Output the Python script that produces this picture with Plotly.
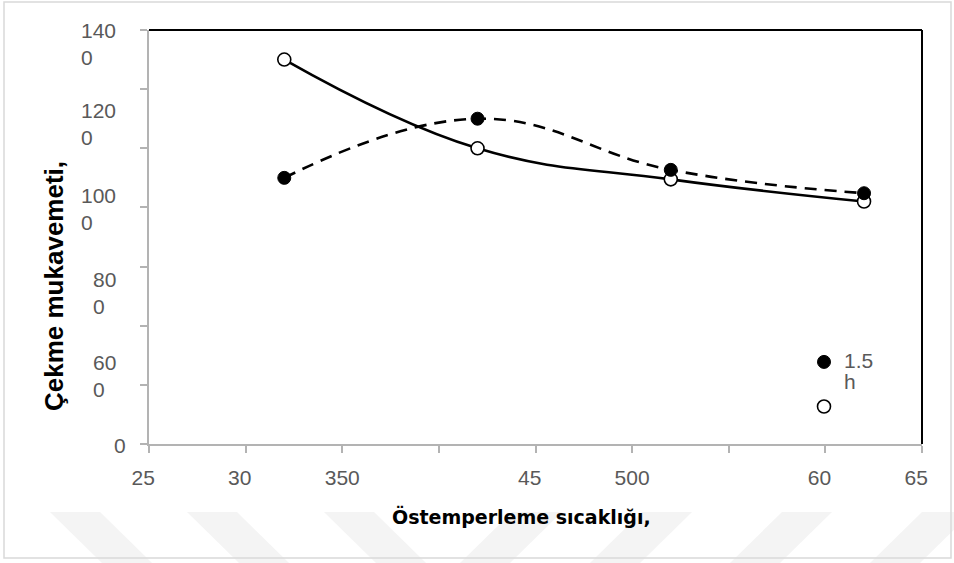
import plotly.graph_objects as go

# ---------------- data ----------------
temps = [320, 420, 520, 620]
strength_open = [1300, 1000, 895, 820]     # open circles, solid line
strength_filled = [900, 1100, 927, 848]    # filled circles, dashed line

x_tick_vals = [250, 300, 350, 400, 450, 500, 550, 600, 650]
x_tick_visible = ["25", "30", "350", "", "45", "500", "", "60", "65"]
x_tick_hidden = ["0", "0", "", "400", "0", "", "550", "0", "0"]

y_tick_vals = [0, 200, 400, 600, 800, 1000, 1200, 1400]
y_tick_labels = ["140<br>0", "120<br>0", "100<br>0", "80<br>0", "60<br>0", "0"]

legend_filled_name = ["1.5", "h"]
legend_open_name = " "

x_title = "Östemperleme sıcaklığı,"
y_title = "Çekme mukavemeti,"

# ---------------- layout helpers ----------------
W, H = 954, 563
L, R, T, B = 149, 32, 30, 119
PW, PH = W - L - R, H - T - B


def px(x):
    return (x - L) / PW


def py(y):
    return (H - B - y) / PH


GRAY_TXT = "#595959"
AXIS_GRAY = "#b3b3b3"
SMOOTH = 1.2

tick_text = [
    v + (f"<span style='color:rgba(0,0,0,0)'>{h}</span>" if h else "")
    for v, h in zip(x_tick_visible, x_tick_hidden)
]

fig = go.Figure()

# lines (no legend)
fig.add_trace(go.Scatter(
    x=temps, y=strength_open, mode="lines", showlegend=False, hoverinfo="skip",
    line=dict(color="black", width=2.6, shape="spline", smoothing=SMOOTH),
))
fig.add_trace(go.Scatter(
    x=temps, y=strength_filled, mode="lines", showlegend=False, hoverinfo="skip",
    line=dict(color="black", width=2.6, shape="spline", smoothing=SMOOTH,
              dash="12px,8px"),
))
# markers (legend)
fig.add_trace(go.Scatter(
    x=temps, y=strength_open, name=legend_open_name, mode="markers",
    marker=dict(symbol="circle", size=13, color="white",
                line=dict(color="black", width=1.6)),
    legendrank=2,
))
fig.add_trace(go.Scatter(
    x=temps, y=strength_filled,
    name="<br>".join(f"<span style='font-size:21px'>{p}</span>" for p in legend_filled_name),
    mode="markers",
    marker=dict(symbol="circle", size=13, color="black",
                line=dict(color="black", width=1)),
    legendrank=1,
))

# y tick label annotations (wrapped, as in the original)
y_label_px = [44, 124, 209, 293, 376, 445]
y_label_right = [118, 118, 118, 118, 118, 128]
annotations = []
for txt, yy, xr in zip(y_tick_labels, y_label_px, y_label_right):
    annotations.append(dict(
        text=txt, xref="paper", yref="paper", x=px(xr), y=py(yy),
        xanchor="right", yanchor="middle", align="left", showarrow=False,
        font=dict(family="Liberation Sans, Arial", size=21, color=GRAY_TXT),
    ))

annotations.append(dict(
    text=f"<b>{x_title}</b>", xref="paper", yref="paper",
    x=px(521), y=py(516), xanchor="center", yanchor="middle", showarrow=False,
    font=dict(family="DejaVu Sans", size=19, color="black"),
))
annotations.append(dict(
    text=f"<b>{y_title}</b>", xref="paper", yref="paper",
    x=px(54), y=py(286), xanchor="center", yanchor="middle", showarrow=False,
    textangle=-90,
    font=dict(family="Liberation Sans, Arial", size=26, color="black"),
))

shapes = []
# watermark stripes
for a in [50, 187, 324]:
    shapes.append(dict(
        type="path", xref="paper", yref="paper", layer="below",
        path=f"M {px(a)} {py(512)} L {px(a+50)} {py(512)} L {px(a+102)} {py(563)} L {px(a+52)} {py(563)} Z",
        fillcolor="#f4f4f4", line=dict(width=0)))
for b in [460, 590, 730, 870]:
    shapes.append(dict(
        type="path", xref="paper", yref="paper", layer="below",
        path=f"M {px(b+52)} {py(512)} L {px(b+102)} {py(512)} L {px(b+50)} {py(563)} L {px(b)} {py(563)} Z",
        fillcolor="#f4f4f4", line=dict(width=0)))
# outer border
shapes.append(dict(type="rect", xref="paper", yref="paper",
                   x0=px(4), x1=px(951), y0=py(558), y1=py(2),
                   line=dict(color="#d9d9d9", width=1.5), layer="below"))
# black frame on top and right
shapes.append(dict(type="line", xref="paper", yref="paper",
                   x0=0, x1=1, y0=1, y1=1, line=dict(color="black", width=2)))
shapes.append(dict(type="line", xref="paper", yref="paper",
                   x0=1, x1=1, y0=0, y1=1, line=dict(color="black", width=2)))

fig.update_layout(
    width=W, height=H,
    margin=dict(l=L, r=R, t=T, b=B),
    paper_bgcolor="white", plot_bgcolor="white",
    showlegend=True,
    legend=dict(
        x=px(804), y=py(345), xanchor="left", yanchor="top",
        bgcolor="rgba(0,0,0,0)", borderwidth=0, valign="top",
        font=dict(family="Liberation Sans, Arial", size=16, color=GRAY_TXT),
        itemwidth=30, tracegroupgap=0,
    ),
    xaxis=dict(
        range=[250, 650], tickmode="array", tickvals=x_tick_vals,
        ticktext=tick_text, ticks="outside", ticklen=7, tickwidth=2,
        tickcolor=AXIS_GRAY, showline=True, linecolor=AXIS_GRAY, linewidth=2,
        showgrid=False, zeroline=False, ticklabelstandoff=7,
        tickfont=dict(family="Liberation Sans, Arial", size=21, color=GRAY_TXT),
    ),
    yaxis=dict(
        range=[0, 1400], tickmode="array", tickvals=y_tick_vals,
        showticklabels=False, ticks="outside", ticklen=7, tickwidth=2,
        tickcolor=AXIS_GRAY, showline=True, linecolor=AXIS_GRAY, linewidth=2,
        showgrid=False, zeroline=False,
    ),
    annotations=annotations,
    shapes=shapes,
)

fig.write_html(
    "out.html",
    config={"displayModeBar": False},
    post_script="document.body.style.margin='0px';document.body.style.overflow='hidden';",
)
